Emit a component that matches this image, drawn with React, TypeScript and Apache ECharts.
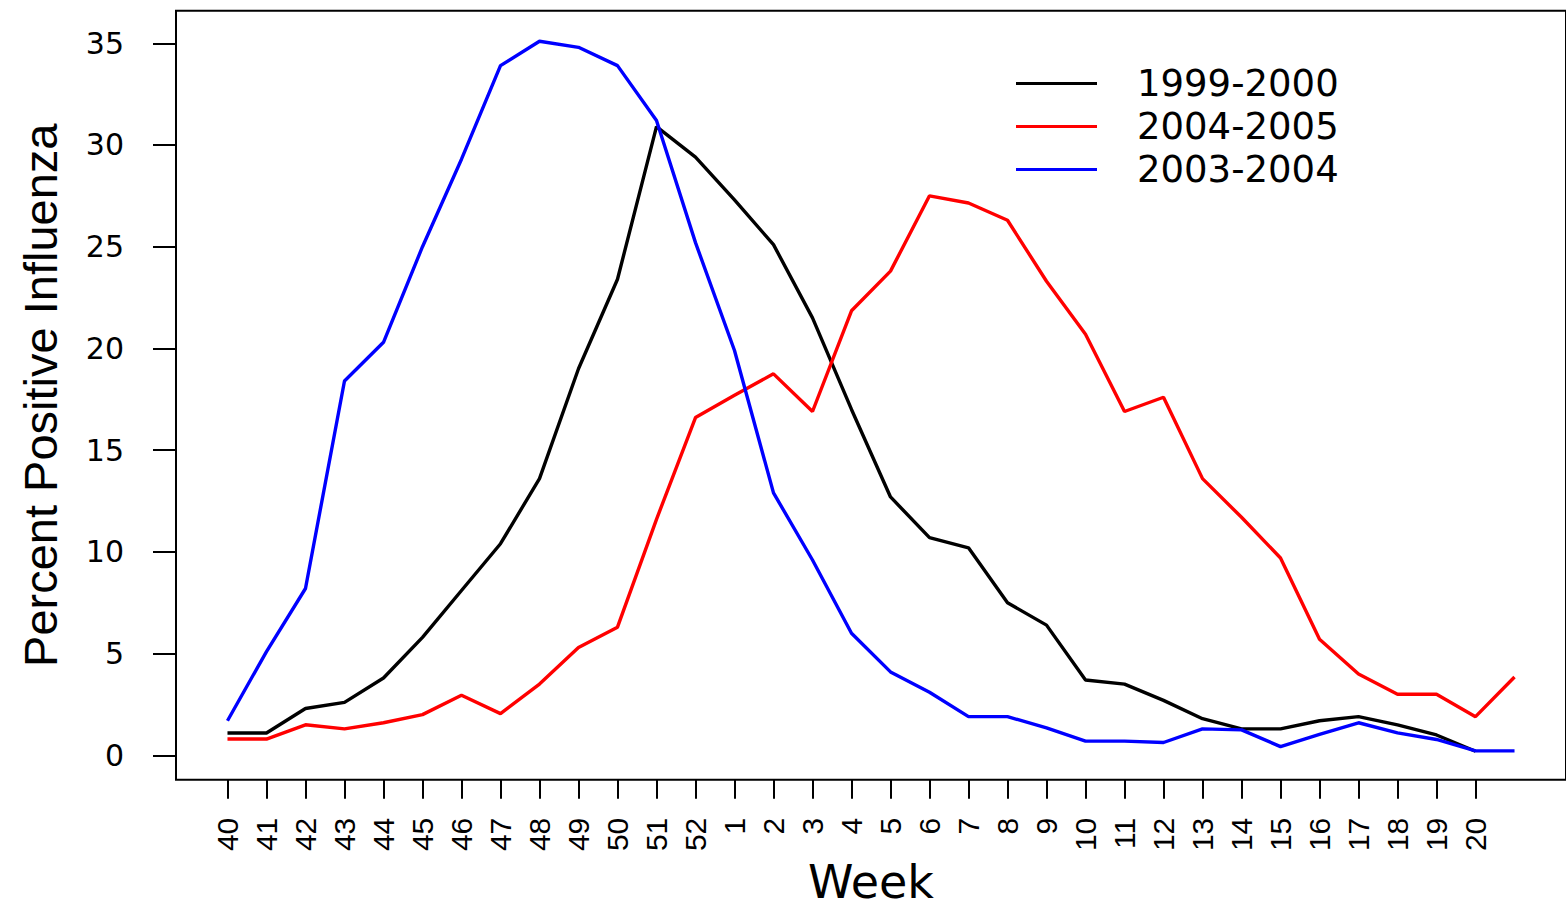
import React, { useEffect, useRef } from "react";
import * as echarts from "echarts";

const weekLabels: string[] = [
  "40", "41", "42", "43", "44", "45", "46", "47", "48", "49", "50", "51", "52",
  "1", "2", "3", "4", "5", "6", "7", "8", "9", "10", "11", "12", "13", "14",
  "15", "16", "17", "18", "19", "20",
];

// 34 weekly points (the last one, week 21, has no tick label)
const season1999: (number | null)[] = [
  1.1, 1.1, 2.3, 2.6, 3.8, 5.8, 8.1, 10.4, 13.6, 19.0, 23.4, 30.9, 29.4,
  27.3, 25.1, 21.5, 17.0, 12.7, 10.7, 10.2, 7.5, 6.4, 3.7, 3.5, 2.7, 1.8,
  1.3, 1.3, 1.7, 1.9, 1.5, 1.0, 0.2, null,
];
const season2004: number[] = [
  0.8, 0.8, 1.5, 1.3, 1.6, 2.0, 2.95, 2.05, 3.5, 5.3, 6.3, 11.6, 16.6,
  17.7, 18.75, 16.9, 21.85, 23.8, 27.5, 27.15, 26.3, 23.3, 20.7, 16.9, 17.6,
  13.6, 11.7, 9.7, 5.7, 4.0, 3.0, 3.0, 1.9, 3.85,
];
const season2003: number[] = [
  1.7, 5.1, 8.2, 18.4, 20.3, 25.0, 29.3, 33.9, 35.1, 34.8, 33.9, 31.2, 25.2,
  19.9, 12.9, 9.6, 6.0, 4.1, 3.1, 1.9, 1.9, 1.35, 0.7, 0.7, 0.63, 1.3, 1.25,
  0.43, 1.03, 1.6, 1.1, 0.78, 0.22, 0.22,
];
const yTicks: number[] = [0, 5, 10, 15, 20, 25, 30, 35];
const seriesNames: string[] = ["1999-2000", "2004-2005", "2003-2004"];
const seriesColors: string[] = ["#000000", "#ff0000", "#0000ff"];

const toPairs = (arr: (number | null)[]) =>
  arr.map((v, i) => (v === null ? null : [i, v])).filter((p) => p !== null);

export default function App() {
  const ref = useRef<HTMLDivElement>(null);
  useEffect(() => {
    if (!ref.current) return;
    const chart = echarts.init(ref.current, undefined, { renderer: "svg" });
    const xTickIdx = weekLabels.map((_, i) => i);
    const allSeries = [season1999, season2004, season2003];
    chart.setOption({
      animation: false,
      backgroundColor: "#ffffff",
      grid: {
        left: 176,
        top: 10.7,
        width: 1403.3,
        height: 788.8,
        show: true,
        borderColor: "#000",
        borderWidth: 2,
        backgroundColor: "transparent",
      },
      legend: {
        orient: "vertical",
        left: 1016,
        top: 62,
        padding: 0,
        itemGap: 0,
        itemWidth: 81,
        itemHeight: 3,
        icon: "rect",
        data: seriesNames,
        textStyle: {
          fontSize: 37,
          fontFamily: "DejaVu Sans",
          color: "#000",
          lineHeight: 43,
          padding: [0, 0, 0, 35],
        },
      },
      xAxis: {
        type: "value",
        min: -1.32,
        max: 34.32,
        name: "Week",
        nameLocation: "middle",
        nameGap: 66,
        nameTextStyle: { fontSize: 46, fontFamily: "DejaVu Sans", color: "#000" },
        axisLine: { show: false, onZero: false },
        splitLine: { show: false },
        axisTick: {
          show: true,
          customValues: xTickIdx,
          length: 19,
          lineStyle: { color: "#000", width: 2 },
        },
        axisLabel: {
          customValues: xTickIdx,
          formatter: (v: number) => weekLabels[Math.round(v)] ?? "",
          rotate: 90,
          margin: 38,
          fontSize: 30,
          fontFamily: "Liberation Sans",
          color: "#000",
        },
      },
      yAxis: {
        type: "value",
        min: -1.2,
        max: 36.6,
        name: "Percent Positive Influenza",
        nameLocation: "middle",
        nameGap: 112,
        nameTextStyle: { fontSize: 47, fontFamily: "Liberation Sans", color: "#000" },
        axisLine: { show: false, onZero: false },
        splitLine: { show: false },
        axisTick: {
          show: true,
          customValues: yTicks,
          length: 23,
          lineStyle: { color: "#000", width: 2 },
        },
        axisLabel: {
          customValues: yTicks,
          margin: 52,
          fontSize: 30,
          fontFamily: "DejaVu Sans",
          color: "#000",
        },
      },
      series: allSeries.map((arr, k) => ({
        name: seriesNames[k],
        type: "line",
        data: toPairs(arr),
        symbol: "none",
        color: seriesColors[k],
        lineStyle: { width: 3.4, color: seriesColors[k] },
        z: 2 + k,
      })),
    });
    return () => chart.dispose();
  }, []);
  return (
    <div
      ref={ref}
      style={{ position: "absolute", left: 0, top: 0, width: 1566, height: 910 }}
    />
  );
}
